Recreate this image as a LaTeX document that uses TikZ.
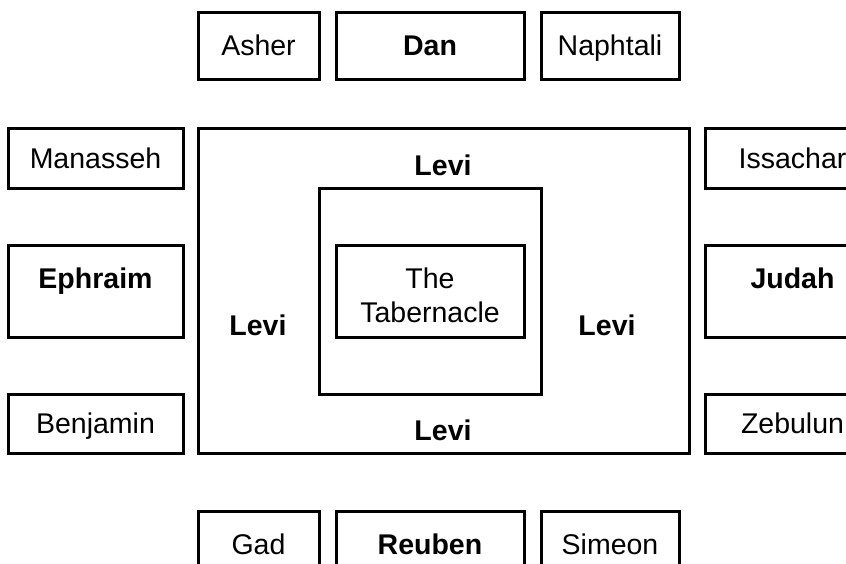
\documentclass[tikz,border=0pt]{standalone}
\usepackage{fontspec}
\setmainfont{Liberation Sans}
\usetikzlibrary{positioning}
\newcommand{\tribefont}{\fontsize{28.5}{34}\selectfont}
\tikzset{
  campbox/.style={draw,line width=3pt,inner sep=0pt,outer sep=0pt},
  tribebox/.style={campbox,minimum width=175pt,minimum height=60pt,align=center,text depth=0pt,font=\tribefont},
  leaderbox/.style={tribebox,font=\tribefont\bfseries},
  twoline/.style={minimum height=92pt,text height=63pt},
  levilabel/.style={inner sep=0pt,font=\tribefont\bfseries}
}
\begin{document}
\begin{tikzpicture}[x=1pt,y=-1pt]
\useasboundingbox (0,0) rectangle (846,563);
\clip (0,0) rectangle (846,563);
% camp of the Levites round the Tabernacle
\node[campbox,minimum width=491pt,minimum height=325pt] (camp) at (443.5,290.5) {};
\node[campbox,minimum width=222pt,minimum height=206pt] (court) at (430,291) {};
\node[tribebox,twoline,minimum width=188pt] (tabernacle) at (430,291) {The\\Tabernacle};
\node[levilabel] (levinorth) at (443,165) {Levi};
\node[levilabel] (levisouth) at (443,430) {Levi};
\node[levilabel] (leviwest) at (258,325) {Levi};
\node[levilabel] (levieast) at (607,325) {Levi};
% north
\node[tribebox,minimum width=121pt,minimum height=67pt] (asher) at (258.5,45.5) {Asher};
\node[leaderbox,minimum width=188pt,minimum height=67pt] (dan) at (430,45.5) {Dan};
\node[tribebox,minimum width=138pt,minimum height=67pt] (naphtali) at (610,45.5) {Naphtali};
% south
\node[tribebox,minimum width=121pt,minimum height=67pt] (gad) at (258.5,544.5) {Gad};
\node[leaderbox,minimum width=188pt,minimum height=67pt] (reuben) at (430,544.5) {Reuben};
\node[tribebox,minimum width=138pt,minimum height=67pt] (simeon) at (610,544.5) {Simeon};
% west
\node[tribebox] (manasseh) at (95.5,158) {Manasseh};
\node[leaderbox,twoline] (ephraim) at (95.5,291) {Ephraim\\\mbox{}};
\node[tribebox,minimum height=59pt] (benjamin) at (95.5,423.5) {Benjamin};
% east
\node[tribebox] (issachar) at (792.5,158) {Issachar};
\node[leaderbox,twoline] (judah) at (792.5,291) {Judah\\\mbox{}};
\node[tribebox,minimum height=59pt] (zebulun) at (792.5,423.5) {Zebulun};
\end{tikzpicture}
\end{document}
